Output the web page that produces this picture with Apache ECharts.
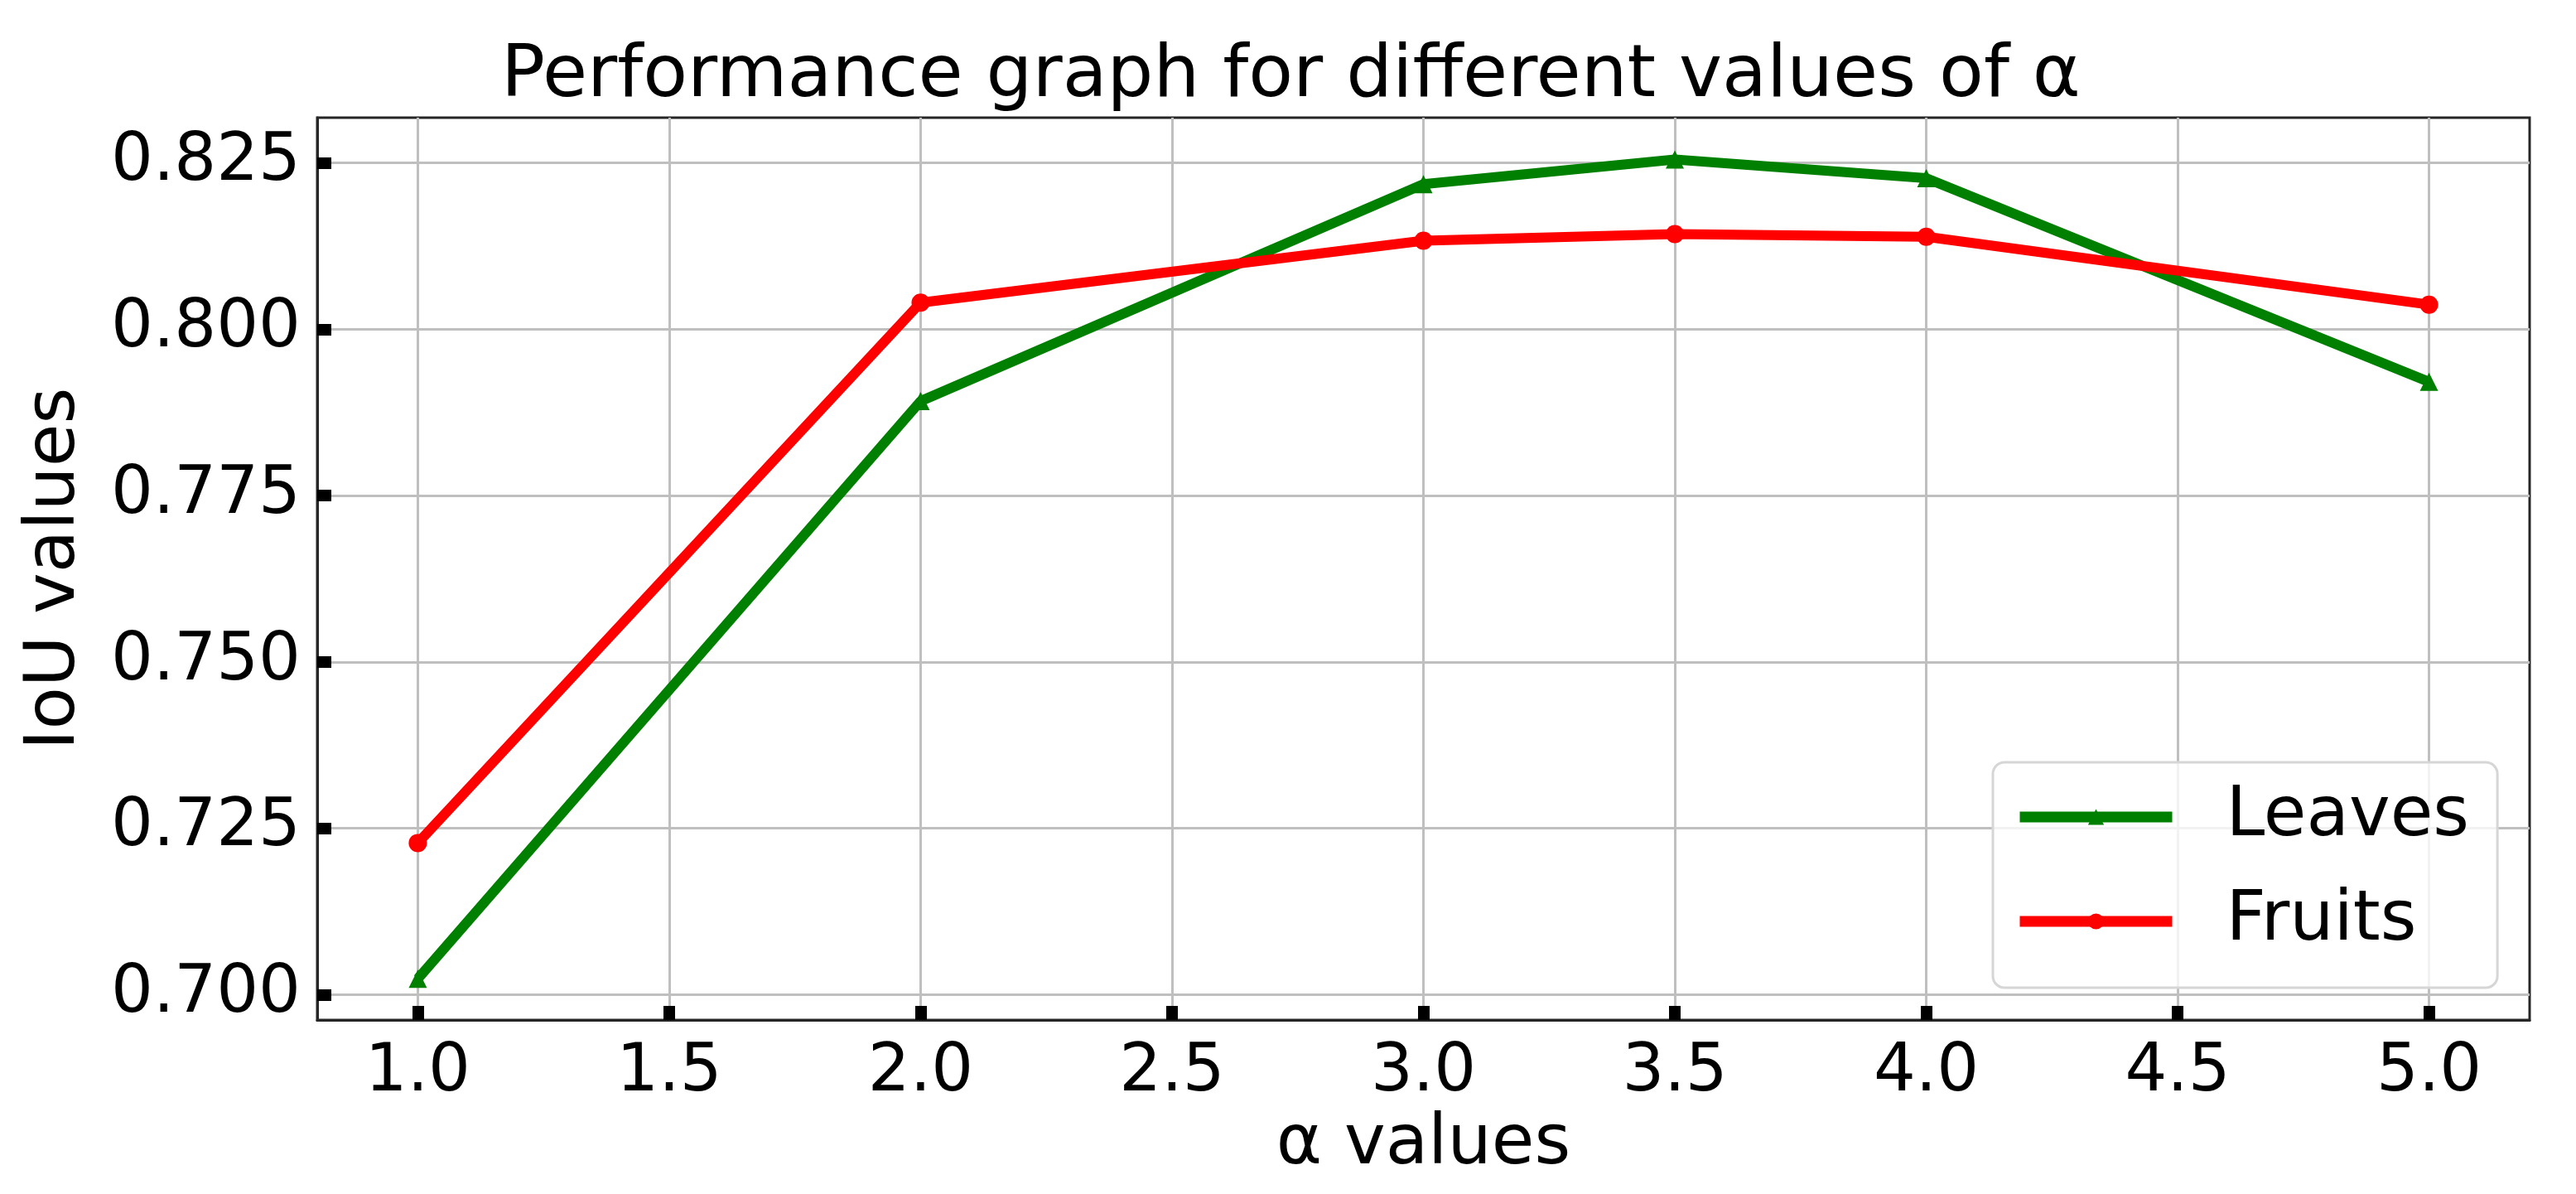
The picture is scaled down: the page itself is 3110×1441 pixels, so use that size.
<!DOCTYPE html>
<html>
<head>
<meta charset="utf-8">
<script src="https://cdn.jsdelivr.net/npm/echarts@6/dist/echarts.min.js"></script>
<style>
html,body{margin:0;padding:0;background:#fff;}
#chart{width:3110px;height:1441px;}
</style>
</head>
<body>
<div id="chart"></div>
<script>
const alphaValues = [1.0, 2.0, 3.0, 3.5, 4.0, 5.0];
const leavesIoU = [0.7024, 0.7892, 0.8218, 0.8255, 0.8227, 0.7921];
const fruitsIoU = [0.7228, 0.8040, 0.8133, 0.8143, 0.8139, 0.8037];
const xTicks = [1.0, 1.5, 2.0, 2.5, 3.0, 3.5, 4.0, 4.5, 5.0];
const yTicks = [0.700, 0.725, 0.750, 0.775, 0.800, 0.825];

const FONT = 'DejaVu Sans';
const chart = echarts.init(document.getElementById('chart'), null, {renderer: 'canvas'});

function pairs(xs, ys) { return xs.map((x, i) => [x, ys[i]]); }

chart.setOption({
  animation: false,
  backgroundColor: '#ffffff',
  title: {
    text: 'Performance graph for different values of α',
    left: 600,
    top: 44,
    textStyle: {fontFamily: FONT, fontSize: 88, fontWeight: 'normal', color: '#000'}
  },
  grid: {
    left: 383, right: 56, top: 142, bottom: 210,
    show: true, borderColor: '#262626', borderWidth: 3, backgroundColor: 'transparent'
  },
  legend: {
    left: 2406, top: 920,
    orient: 'vertical',
    padding: [16, 34, 30, 26],
    itemWidth: 184, itemHeight: 24, itemGap: 26,
    backgroundColor: 'rgba(255,255,255,0.8)',
    borderColor: '#d6d6d6', borderWidth: 3, borderRadius: 14,
    lineStyle: {width: 13},
    textStyle: {fontFamily: FONT, fontSize: 84, color: '#000', lineHeight: 100, padding: [0, 0, 0, 60]},
    data: ['Leaves', 'Fruits']
  },
  xAxis: {
    type: 'value', min: 0.8, max: 5.2,
    name: 'α values', nameLocation: 'middle', nameGap: 100,
    nameTextStyle: {fontFamily: FONT, fontSize: 84, color: '#000'},
    axisLine: {show: true, onZero: false, lineStyle: {color: '#262626', width: 3}},
    axisTick: {show: true, inside: true, length: 17, customValues: xTicks, lineStyle: {color: '#000', width: 14}},
    axisLabel: {customValues: xTicks, margin: 24, fontFamily: FONT, fontSize: 80, color: '#000',
      formatter: v => v.toFixed(1)},
    splitLine: {show: true, lineStyle: {color: '#bfbfbf', width: 3}}
  },
  yAxis: {
    type: 'value', min: 0.6962, max: 0.8318,
    name: 'IoU values', nameLocation: 'middle', nameGap: 274, nameRotate: 90,
    nameTextStyle: {fontFamily: FONT, fontSize: 84, color: '#000'},
    axisLine: {show: true, onZero: false, lineStyle: {color: '#262626', width: 3}},
    axisTick: {show: true, inside: true, length: 17, customValues: yTicks, lineStyle: {color: '#000', width: 14}},
    axisLabel: {customValues: yTicks, margin: 20, fontFamily: FONT, fontSize: 80, color: '#000',
      formatter: v => v.toFixed(3)},
    splitLine: {show: true, lineStyle: {color: '#bfbfbf', width: 3}}
  },
  series: [
    {
      name: 'Leaves', type: 'line', data: pairs(alphaValues, leavesIoU),
      symbol: 'triangle', symbolSize: 22, showSymbol: true,
      color: '#008000',
      lineStyle: {color: '#008000', width: 12},
      itemStyle: {color: '#008000'},
      z: 2
    },
    {
      name: 'Fruits', type: 'line', data: pairs(alphaValues, fruitsIoU),
      symbol: 'circle', symbolSize: 22, showSymbol: true,
      color: '#ff0000',
      lineStyle: {color: '#ff0000', width: 12},
      itemStyle: {color: '#ff0000'},
      z: 3
    }
  ]
});
</script>
</body>
</html>
